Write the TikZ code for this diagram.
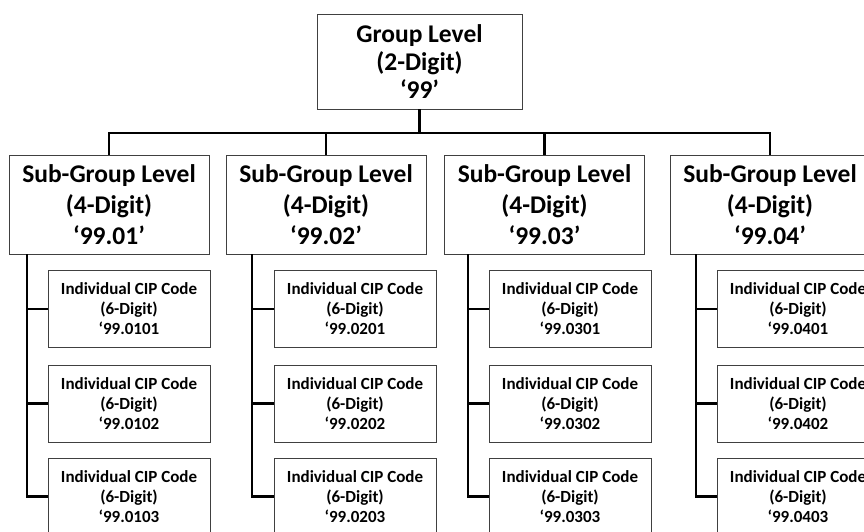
\documentclass[tikz,border=0pt]{standalone}
\usepackage{fontspec}
\setmainfont{Carlito}
\tikzset{
  grpbox/.style={draw=black!75, line width=0.9pt, minimum width=205pt, minimum height=95pt, inner sep=0pt, align=center, font=\bfseries\fontsize{25.5}{28}\selectfont},
  subbox/.style={draw=black!75, line width=0.9pt, minimum width=200pt, minimum height=99pt, inner sep=0pt, align=center, font=\bfseries\fontsize{25.5}{31}\selectfont},
  leafbox/.style={draw=black!75, line width=0.9pt, minimum width=162pt, minimum height=77pt, inner sep=0pt, align=center, font=\bfseries\fontsize{17}{20}\selectfont},
  wire/.style={line width=2.6pt, black}
}
\begin{document}
\begin{tikzpicture}[x=1pt,y=-1pt]
\useasboundingbox (0,0) rectangle (864,532);
\clip (0,0) rectangle (864,532);

%Group Level
\node [grpbox] (grp) at (419.5,61.5) {Group Level\\(2-Digit)\\‘99’};

%Sub-Group Level
\node [subbox] (sub1) at (109,204.5) {Sub-Group Level\\(4-Digit)\\‘99.01’};
\node [subbox] (sub2) at (326,204.5) {Sub-Group Level\\(4-Digit)\\‘99.02’};
\node [subbox] (sub3) at (544.5,204.5) {Sub-Group Level\\(4-Digit)\\‘99.03’};
\node [subbox] (sub4) at (770,204.5) {Sub-Group Level\\(4-Digit)\\‘99.04’};

%Individual CIP Code -- column 1
\node [leafbox] (cip11) at (129,309) {Individual CIP Code\\(6-Digit)\\‘99.0101};
\node [leafbox] (cip12) at (129,403.5) {Individual CIP Code\\(6-Digit)\\‘99.0102};
\node [leafbox] (cip13) at (129,496.5) {Individual CIP Code\\(6-Digit)\\‘99.0103};
%Individual CIP Code -- column 2
\node [leafbox] (cip21) at (355,309) {Individual CIP Code\\(6-Digit)\\‘99.0201};
\node [leafbox] (cip22) at (355,403.5) {Individual CIP Code\\(6-Digit)\\‘99.0202};
\node [leafbox] (cip23) at (355,496.5) {Individual CIP Code\\(6-Digit)\\‘99.0203};
%Individual CIP Code -- column 3
\node [leafbox] (cip31) at (570,309) {Individual CIP Code\\(6-Digit)\\‘99.0301};
\node [leafbox] (cip32) at (570,403.5) {Individual CIP Code\\(6-Digit)\\‘99.0302};
\node [leafbox] (cip33) at (570,496.5) {Individual CIP Code\\(6-Digit)\\‘99.0303};
%Individual CIP Code -- column 4
\node [leafbox] (cip41) at (798,309) {Individual CIP Code\\(6-Digit)\\‘99.0401};
\node [leafbox] (cip42) at (798,403.5) {Individual CIP Code\\(6-Digit)\\‘99.0402};
\node [leafbox] (cip43) at (798,496.5) {Individual CIP Code\\(6-Digit)\\‘99.0403};

%Bus under the group box
\coordinate (bus) at (0,133);
\draw [wire] (grp.south) -- (grp.south |- bus);
\draw [wire] (sub1.north) -- (sub1.north |- bus) -- (sub4.north |- bus) -- (sub4.north);
\draw [wire] (sub2.north) -- (sub2.north |- bus);
\draw [wire] (sub3.north) -- (sub3.north |- bus);

%Spines down to the codes
\coordinate (sp1) at (27,254);
\coordinate (sp2) at (252,254);
\coordinate (sp3) at (468,254);
\coordinate (sp4) at (696,254);
\draw [wire] (sp1) |- (cip11.west);
\draw [wire] (sp1) |- (cip12.west);
\draw [wire] (sp1) |- (cip13.west);
\draw [wire] (sp2) |- (cip21.west);
\draw [wire] (sp2) |- (cip22.west);
\draw [wire] (sp2) |- (cip23.west);
\draw [wire] (sp3) |- (cip31.west);
\draw [wire] (sp3) |- (cip32.west);
\draw [wire] (sp3) |- (cip33.west);
\draw [wire] (sp4) |- (cip41.west);
\draw [wire] (sp4) |- (cip42.west);
\draw [wire] (sp4) |- (cip43.west);

\end{tikzpicture}
\end{document}
